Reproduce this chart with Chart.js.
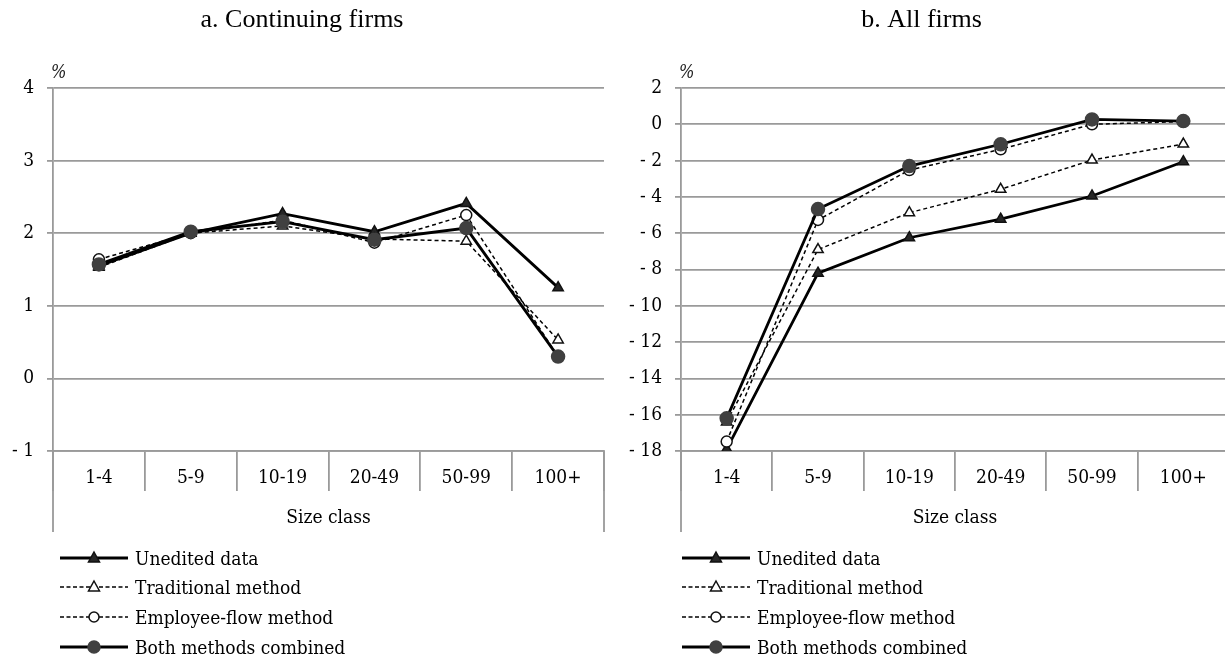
<!DOCTYPE html>
<html>
<head>
<meta charset="utf-8">
<script src="https://cdn.jsdelivr.net/npm/chart.js@4.4.1/dist/chart.umd.min.js"></script>
<style>
body { margin:0; width:1225px; height:660px; overflow:hidden; background:#fff; position:relative;
       font-family:"DejaVu Serif Condensed","DejaVu Serif",serif; }
.box { position:absolute; top:0; }
.legend { position:absolute; top:543px; font-size:19px; color:#000; }
.legend .row { height:29.6px; display:flex; align-items:center; white-space:nowrap; }
.legend svg { margin-right:7px; }
</style>
</head>
<body>
<canvas id="contChart" class="box" style="left:0" width="612" height="545"></canvas>
<canvas id="allChart" class="box" style="left:612px" width="625" height="545"></canvas>
<div id="contLegend" class="legend" style="left:60px"></div>
<div id="allLegend" class="legend" style="left:682px"></div>
<script>
// size classes on the x axis
const sizeClasses = ['1-4', '5-9', '10-19', '20-49', '50-99', '100+'];
const seriesNames = ['Unedited data', 'Traditional method', 'Employee-flow method', 'Both methods combined'];

// a. Continuing firms (%)
const contUnedited    = [1.55, 2.00, 2.27, 2.02, 2.41, 1.25];
const contTraditional = [1.53, 2.00, 2.10, 1.92, 1.89, 0.53];
const contEmployee    = [1.64, 2.00, 2.18, 1.87, 2.25, 0.30];
const contBoth        = [1.57, 2.02, 2.16, 1.91, 2.07, 0.30];

// b. All firms (%)
const allUnedited    = [-17.9, -8.20, -6.25, -5.23, -3.95, -2.06];
const allTraditional = [-16.4, -6.90, -4.87, -3.58, -1.97, -1.09];
const allEmployee    = [-17.48, -5.27, -2.52, -1.38, 0.00, 0.15];
const allBoth        = [-16.2, -4.67, -2.30, -1.10, 0.27, 0.18];

const gridColor = '#9a9a9a';
const axisFont = { family: '"DejaVu Serif Condensed", "DejaVu Serif", serif', size: 19 };

const seriesStyles = [
  { dash: [],     width: 2.8, point: 'triangle', fill: '#262626', border: '#111', radius: 6 },
  { dash: [4, 3], width: 1.5, point: 'triangle', fill: '#fff',    border: '#111', radius: 6 },
  { dash: [4, 3], width: 1.5, point: 'circle',   fill: '#fff',    border: '#111', radius: 5.5 },
  { dash: [],     width: 2.8, point: 'circle',   fill: '#404040', border: '#404040', radius: 6.5 }
];

// extends the outer box lines below the category cells and writes the % unit
const frameExtras = {
  id: 'frameExtras',
  afterDraw(chart) {
    const { ctx, chartArea } = chart;
    const xs = chart.scales.x;
    ctx.save();
    ctx.strokeStyle = gridColor;
    ctx.lineWidth = 1.8;
    ctx.beginPath();
    [chartArea.left, chartArea.right].forEach(px => {
      ctx.moveTo(px, chartArea.bottom);
      ctx.lineTo(px, xs.bottom - 13);
    });
    ctx.stroke();
    ctx.font = 'italic 18px "DejaVu Serif Condensed", "DejaVu Serif", serif';
    ctx.fillStyle = '#222';
    ctx.fillText('%', chartArea.left - 2, chartArea.top - 10);
    ctx.restore();
  }
};

function makeChart(id, title, series, yMin, yMax, yStep, yWidth, padRight) {
  const datasets = series.map((vals, i) => {
    const s = seriesStyles[i];
    return {
      label: seriesNames[i],
      data: vals,
      borderColor: '#000',
      borderWidth: s.width,
      borderDash: s.dash,
      pointStyle: s.point,
      pointRadius: s.radius,
      pointBackgroundColor: s.fill,
      pointBorderColor: s.border,
      pointBorderWidth: 1.5,
      tension: 0,
      order: 4 - i
    };
  });
  return new Chart(document.getElementById(id), {
    type: 'line',
    data: { labels: sizeClasses, datasets: datasets },
    plugins: [frameExtras],
    options: {
      responsive: false,
      animation: false,
      events: [],
      layout: { padding: { right: padRight } },
      plugins: {
        legend: { display: false },
        tooltip: { enabled: false },
        title: {
          display: true,
          text: title,
          color: '#000',
          font: { family: '"Liberation Serif", serif', size: 26, weight: 'normal' },
          padding: { top: 5, bottom: 51.8 }
        }
      },
      scales: {
        x: {
          offset: true,
          grid: { offset: true, drawOnChartArea: false, tickLength: 40, color: gridColor, lineWidth: 1.8 },
          border: { color: gridColor, width: 1.8 },
          ticks: { color: '#000', font: axisFont, padding: -24, maxRotation: 0 },
          title: { display: true, text: 'Size class', color: '#000', font: axisFont, padding: { top: 0, bottom: 16 } },
          afterFit(scale) { scale.height = 94; }
        },
        y: {
          min: yMin,
          max: yMax,
          grid: { color: gridColor, lineWidth: 1.8, tickLength: 6 },
          border: { color: gridColor, width: 1.8 },
          ticks: {
            stepSize: yStep,
            color: '#000',
            font: axisFont,
            padding: 13,
            callback: v => v < 0 ? '- ' + Math.abs(v) : String(v)
          },
          afterFit(scale) { scale.width = yWidth; }
        }
      }
    }
  });
}

function makeLegend(id) {
  const box = document.getElementById(id);
  seriesNames.forEach((name, i) => {
    const s = seriesStyles[i];
    const dash = s.dash.length ? 'stroke-dasharray="4,2.5"' : '';
    const lw = s.dash.length ? 1.4 : 2.8;
    let mark;
    if (s.point === 'triangle') {
      mark = `<polygon points="34,4 39.5,14 28.5,14" fill="${s.fill}" stroke="#111" stroke-width="1.5"/>`;
    } else {
      mark = `<circle cx="34" cy="10" r="${s.radius - 0.5}" fill="${s.fill}" stroke="${s.border}" stroke-width="1.5"/>`;
    }
    const row = document.createElement('div');
    row.className = 'row';
    row.innerHTML = `<svg width="68" height="20"><line x1="0" y1="10" x2="68" y2="10" stroke="#000" stroke-width="${lw}" ${dash}/>${mark}</svg><span>${name}</span>`;
    box.appendChild(row);
  });
}

makeChart('contChart', 'a. Continuing firms',
  [contUnedited, contTraditional, contEmployee, contBoth], -1, 4, 1, 53, 8);
makeChart('allChart', 'b. All firms',
  [allUnedited, allTraditional, allEmployee, allBoth], -18, 2, 2, 69, 6);
makeLegend('contLegend');
makeLegend('allLegend');
</script>
</body>
</html>
